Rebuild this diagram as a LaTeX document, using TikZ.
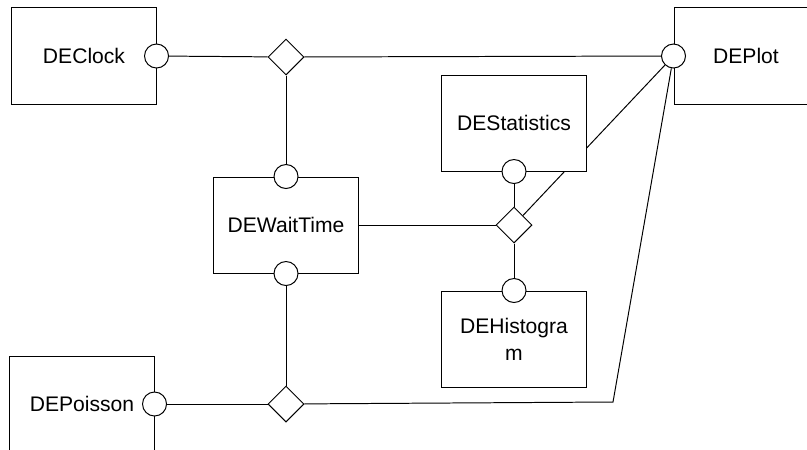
\documentclass[tikz,border=0pt]{standalone}
\usepackage{fontspec}
\setmainfont{Liberation Sans}
\usetikzlibrary{shapes.geometric}

\begin{document}
\begin{tikzpicture}[x=0.025cm,y=-0.025cm,line width=0.7pt,
    block/.style={rectangle,draw,fill=white,minimum width=3.6cm,minimum height=2.4cm,
                  inner sep=0pt,align=center,font=\fontsize{15}{19}\selectfont},
    port/.style={circle,draw,fill=white,minimum size=0.6cm,inner sep=0pt},
    junction/.style={diamond,draw,fill=white,minimum size=0.9cm,inner sep=0pt},
    every edge/.style={draw=black,line width=0.7pt}]
    \useasboundingbox (0,0) rectangle (807,449);
    \clip (0,0) rectangle (807,449);

    % blocks
    \node[block] (clock) at (84,56) {DEClock};
    \node[block] (plot) at (746,56) {DEPlot};
    \node[block] (wait) at (286,225) {DEWaitTime};
    \node[block] (hist) at (514,339) {DEHistogra\\m};
    \node[block] (poisson) at (82,404) {DEPoisson};

    % junctions
    \node[junction] (jtop) at (286,57) {};
    \node[junction] (jmid) at (514,225) {};
    \node[junction] (jbot) at (286,404) {};
    \coordinate (bend) at (613,402);

    % ports
    \node[port] (clockout) at (clock.east) {};
    \node[port] (plotin) at (plot.west) {};
    \node[port] (waitin) at (wait.north) {};
    \node[port] (waitout) at (wait.south) {};
    \node[port] (histin) at (hist.north) {};
    \node[port] (poissonout) at (poisson.east) {};

    % this one runs behind DEStatistics
    \path [-] (jmid) edge (plotin);

    \node[block] (stats) at (514,123) {DEStatistics};
    \node[port] (statsout) at (stats.south) {};

    \path [-] (clockout) edge (jtop);
    \path [-] (jtop) edge (plotin);
    \path [-] (jtop) edge (waitin);
    \path [-] (wait) edge (jmid);
    \path [-] (statsout) edge (jmid);
    \path [-] (jmid) edge (histin);
    \path [-] (waitout) edge (jbot);
    \path [-] (poissonout) edge (jbot);
    \draw (jbot) -- (bend) -- (plotin);
\end{tikzpicture}
\end{document}
